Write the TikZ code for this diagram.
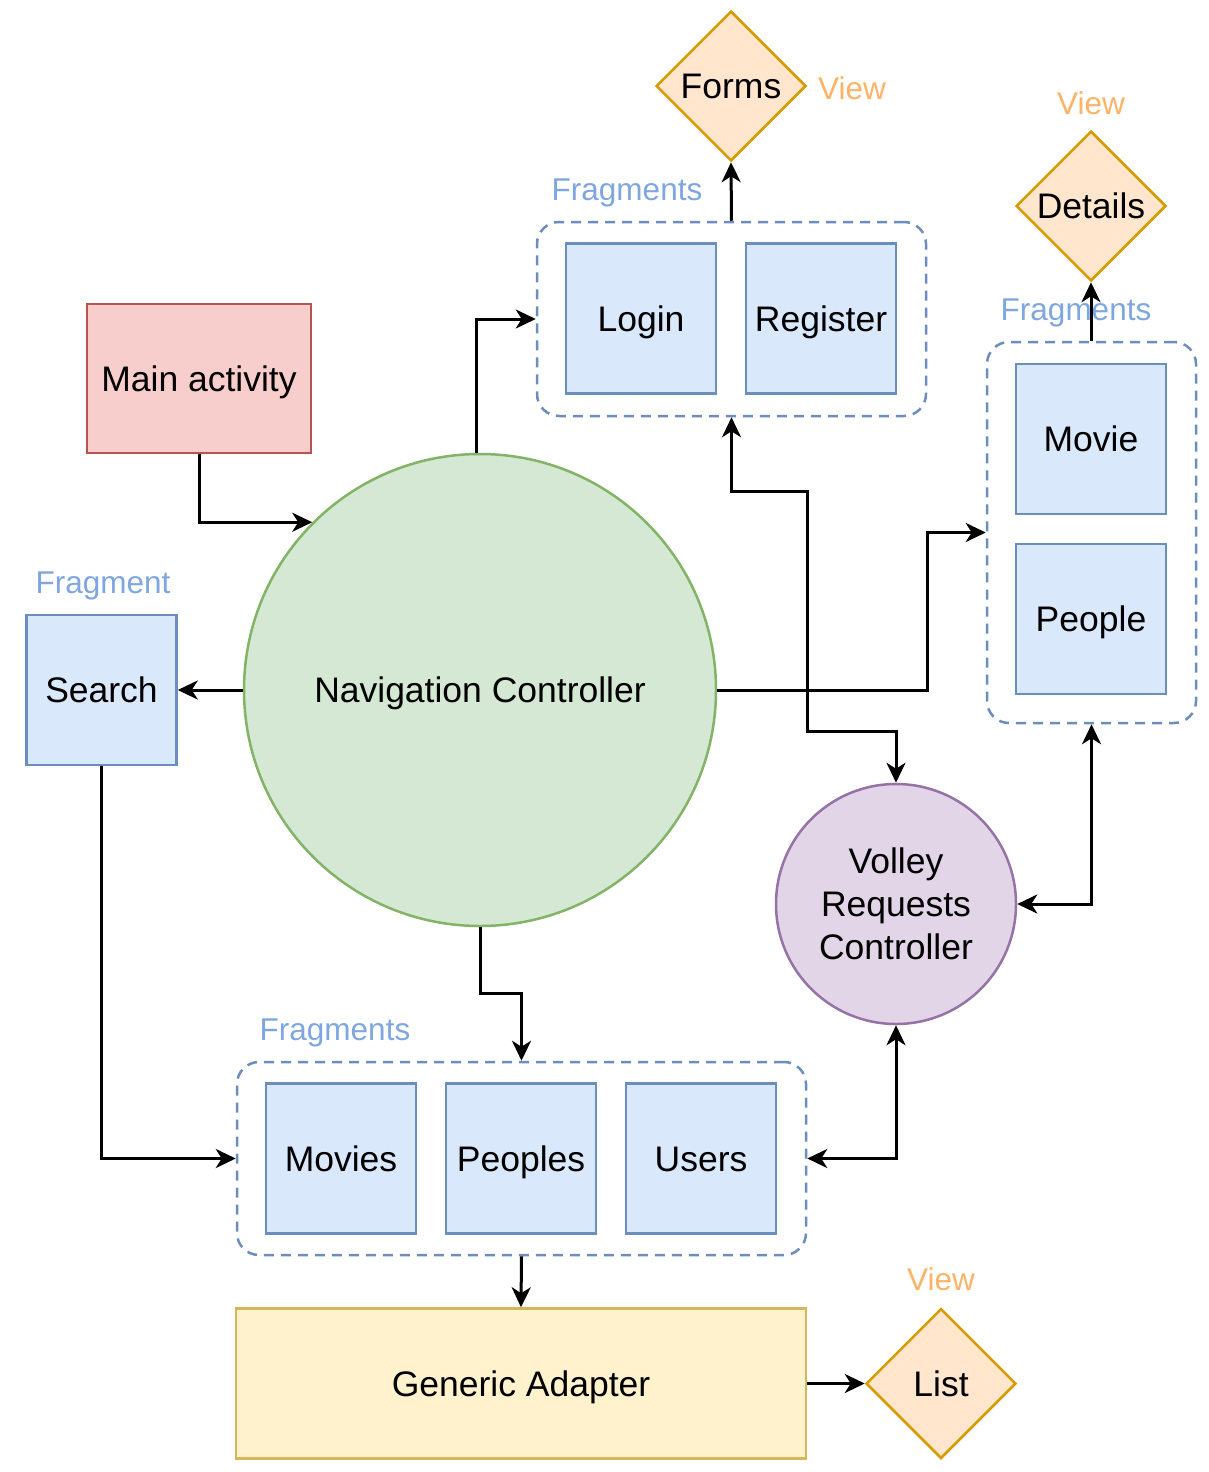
\documentclass[tikz,border=0pt]{standalone}
\usepackage{fontspec}
\setmainfont{Liberation Sans}
\usetikzlibrary{shapes.geometric,arrows.meta}
\definecolor{blueF}{HTML}{DAE8FC}
\definecolor{blueS}{HTML}{6C8EBF}
\definecolor{redF}{HTML}{F8CECC}
\definecolor{redS}{HTML}{B85450}
\definecolor{greenF}{HTML}{D5E8D4}
\definecolor{greenS}{HTML}{82B366}
\definecolor{purpF}{HTML}{E1D5E7}
\definecolor{purpS}{HTML}{9673A6}
\definecolor{yelF}{HTML}{FFF2CC}
\definecolor{yelS}{HTML}{D6B656}
\definecolor{orF}{HTML}{FFE6CC}
\definecolor{orS}{HTML}{D79B00}
\definecolor{lblBlue}{HTML}{7EA6E0}
\definecolor{lblOr}{HTML}{FFB366}
\begin{document}
\begin{tikzpicture}[x=1pt,y=-1pt,
  mainfont/.style={font=\fontsize{35.5}{43}\selectfont},
  onel/.style={mainfont,text height=25.5pt,text depth=0pt},
  lblfont/.style={font=\fontsize{31.5}{38}\selectfont},
  fragbox/.style={rectangle,draw=blueS,fill=blueF,line width=2.5pt,minimum width=150pt,minimum height=150pt,inner sep=0pt,onel},
  grpbox/.style={rectangle,draw=blueS,line width=2.5pt,dash pattern=on 10pt off 7pt,rounded corners=22pt,inner sep=0pt},
  viewdia/.style={diamond,aspect=1,draw=orS,fill=orF,line width=2.5pt,minimum width=150pt,minimum height=150pt,inner sep=0pt,onel},
  fraglbl/.style={text=lblBlue,lblfont,inner sep=0pt},
  viewlbl/.style={text=lblOr,lblfont,inner sep=0pt},
  arr/.style={line width=3pt,-{Stealth[length=20pt,width=19pt,inset=6pt]}},
  arrtwo/.style={line width=3pt,{Stealth[length=20pt,width=19pt,inset=6pt]}-{Stealth[length=20pt,width=19pt,inset=6pt]}}
]
\useasboundingbox (0,0) rectangle (1208,1472);

% groups
\node[grpbox,minimum width=389pt,minimum height=194pt] (g1) at (731.5,319) {};
\node[grpbox,minimum width=209pt,minimum height=381pt] (g2) at (1091.5,532.5) {};
\node[grpbox,minimum width=569pt,minimum height=193pt] (g3) at (521.5,1158.5) {};

% fragment boxes
\node[fragbox] (login) at (641,318.5) {Login};
\node[fragbox] (register) at (821,318.5) {Register};
\node[fragbox] (movie) at (1091,439) {Movie};
\node[fragbox] (people) at (1091,619) {People};
\node[fragbox] (movies) at (341,1158.5) {Movies};
\node[fragbox] (peoples) at (521,1158.5) {Peoples};
\node[fragbox] (users) at (701,1158.5) {Users};
\node[fragbox] (search) at (101.5,690) {Search};

% views
\node[viewdia] (forms) at (731,86) {Forms};
\node[viewdia] (details) at (1091,206) {Details};
\node[viewdia] (list) at (941,1383.5) {List};

% main shapes
\node[rectangle,draw=redS,fill=redF,line width=2.5pt,minimum width=224pt,minimum height=149pt,inner sep=0pt,onel] (main) at (199,378.5) {Main activity};
\node[circle,draw=greenS,fill=greenF,line width=2.5pt,minimum size=472pt,inner sep=0pt,onel] (nav) at (480,690) {Navigation Controller};
\node[circle,draw=purpS,fill=purpF,line width=2.5pt,minimum size=240pt,inner sep=0pt,mainfont,align=center] (volley) at (896,904) {Volley\\Requests\\Controller};
\node[rectangle,draw=yelS,fill=yelF,line width=2.5pt,minimum width=570pt,minimum height=150pt,inner sep=0pt,onel] (ga) at (521,1383.5) {Generic Adapter};

% labels
\node[fraglbl] (lf1) at (627,193) {Fragments};
\node[fraglbl] (lf2) at (1076,313) {Fragments};
\node[fraglbl] (lf3) at (335,1033) {Fragments};
\node[fraglbl] (lf4) at (103,586) {Fragment};
\node[viewlbl] (lv1) at (852,88) {View};
\node[viewlbl] (lv2) at (1091,103) {View};
\node[viewlbl] (lv3) at (941,1279) {View};

% connectors
\draw[arr] (g1.north) -- (forms.south);
\draw[arr] (g2.north -| details.south) -- (details.south);
\draw[arr] (main.south) |- (nav.135);
\draw[arr] ([xshift=-4pt]nav.north) |- (g1.west);
\draw[arr] (nav.west) -- (search.east);
\draw[arr] (search.south) |- (g3.west);
\draw[arr] (nav.east) -- (927,690) |- (g2.west);
\draw[arrtwo] (g1.south) |- (807,491) -- (807,731) -| (volley.north);
\draw[arrtwo] (volley.east) -| (g2.south);
\draw[arrtwo] (volley.south) |- (g3.east);
\draw[arr] (nav.south) -- (480,993) -| (g3.north);
\draw[arr] (g3.south) -- (ga.north);
\draw[arr] (ga.east) -- (list.west);
\end{tikzpicture}
\end{document}
